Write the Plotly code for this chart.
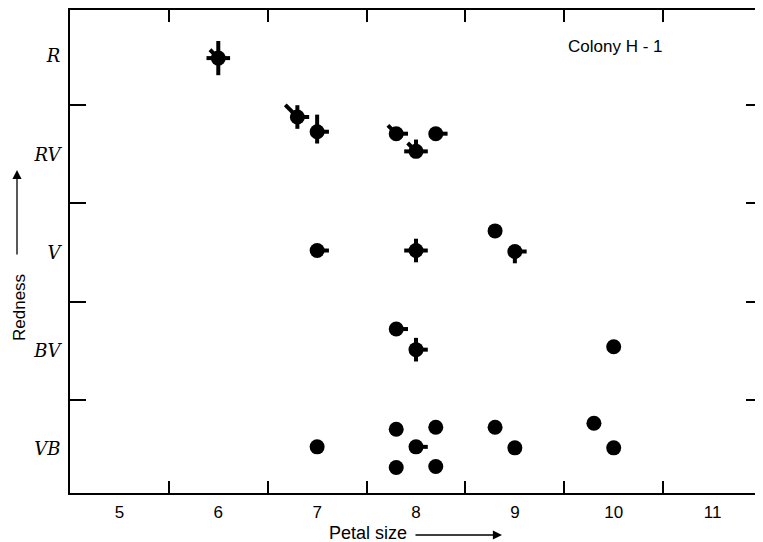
import math
import plotly.graph_objects as go

# ---- data ----
petal_size = [6.0, 6.8, 7.0, 7.8, 8.2, 8.0, 7.0, 8.0, 8.8, 9.0, 7.8, 8.0, 10.0,
              7.0, 7.8, 8.2, 8.0, 7.8, 8.2, 8.8, 9.0, 9.8, 10.0]
redness = [3.98, 3.38, 3.23, 3.21, 3.21, 3.03, 2.02, 2.02, 2.22, 2.01, 1.22, 1.01, 1.04,
           0.02, 0.2, 0.22, 0.02, -0.19, -0.18, 0.22, 0.01, 0.26, 0.01]
# ray scores (0 = none, 1 = short, 2 = long) for five other characters
ray_n = [2, 1, 2, 0, 0, 1, 0, 1, 0, 0, 0, 1, 0, 0, 0, 0, 0, 0, 0, 0, 0, 0, 0]
ray_s = [2, 1, 1, 0, 0, 0, 0, 1, 0, 1, 0, 1, 0, 0, 0, 0, 0, 0, 0, 0, 0, 0, 0]
ray_e = [1, 1, 1, 1, 1, 1, 1, 1, 0, 1, 1, 1, 0, 0, 0, 0, 1, 0, 0, 0, 0, 0, 0]
ray_w = [1, 0, 0, 0, 0, 1, 0, 1, 0, 0, 0, 0, 0, 0, 0, 0, 0, 0, 0, 0, 0, 0, 0]
ray_nw = [1, 2, 0, 1, 0, 1, 0, 0, 0, 0, 0, 0, 0, 0, 0, 0, 0, 0, 0, 0, 0, 0, 0]

x_tick_vals = [5, 6, 7, 8, 9, 10, 11]
y_tick_vals = [0, 1, 2, 3, 4]
y_tick_text = ["VB", "BV", "V", "RV", "R"]

# ---- figure ----
fig = go.Figure()

fig.add_trace(go.Scatter(
    x=petal_size, y=redness, mode="markers",
    marker=dict(size=15, color="black", line=dict(width=0)),
    showlegend=False, hoverinfo="skip"))

# dummy trace for the secondary (tick-only) axes
fig.add_trace(go.Scatter(x=[8], y=[2], xaxis="x2", yaxis="y2", mode="markers",
                         marker=dict(size=1, opacity=0), showlegend=False, hoverinfo="skip"))

BASE = 6.5
STEP = 5.3
shapes = []
s2 = math.sqrt(0.5)
for i in range(len(petal_size)):
    for lev, (ux, uy) in [(ray_n[i], (0, 1)), (ray_s[i], (0, -1)), (ray_e[i], (1, 0)),
                          (ray_w[i], (-1, 0)), (ray_nw[i], (-s2, s2))]:
        if lev <= 0:
            continue
        L = BASE + STEP * lev
        shapes.append(dict(
            type="line", xref="x", yref="y",
            xsizemode="pixel", ysizemode="pixel",
            xanchor=petal_size[i], yanchor=redness[i],
            x0=0, y0=0, x1=ux * L, y1=uy * L,
            line=dict(color="black", width=4), layer="above"))

xr = [4.5, 11.5]
yr = [-0.45, 4.47]

# page has an 8px body margin; figure sized so it ends at the window edge
W, H = 755, 534
L_M, T_M, R_M, B_M = 62, 2, 1, 49
PW = W - L_M - R_M
PH = H - T_M - B_M


def px_x(sx):
    return (sx - 8 - L_M) / PW


def px_y(sy):
    return (H - B_M - (sy - 8)) / PH


fig.update_layout(
    width=W, height=H,
    margin=dict(l=L_M, r=R_M, t=T_M, b=B_M, autoexpand=False),
    paper_bgcolor="white", plot_bgcolor="white",
    shapes=shapes,
    xaxis=dict(range=xr, tickvals=x_tick_vals, ticks="", showgrid=False, zeroline=False,
               showline=True, linecolor="black", linewidth=2, mirror=True,
               tickfont=dict(family="Liberation Sans", size=17, color="black"),
               ticklabelstandoff=3),
    yaxis=dict(range=yr, tickvals=y_tick_vals,
               ticktext=["<i>%s</i>" % t for t in y_tick_text],
               ticks="", showgrid=False, zeroline=False,
               showline=True, linecolor="black", linewidth=2, mirror=True,
               tickfont=dict(family="DejaVu Serif", size=18, color="black"),
               ticklabelstandoff=4),
    xaxis2=dict(range=xr, overlaying="x", tickvals=[5.5, 6.5, 7.5, 8.5, 9.5, 10.5],
                ticks="inside", ticklen=12, tickwidth=1.6, tickcolor="black",
                mirror="allticks", showline=False, showticklabels=False,
                showgrid=False, zeroline=False),
    yaxis2=dict(range=yr, overlaying="y", tickvals=[0.5, 1.5, 2.5, 3.5],
                ticks="inside", ticklen=16, tickwidth=1.6, tickcolor="black",
                mirror="allticks", showline=False, showticklabels=False,
                showgrid=False, zeroline=False),
)

# axis titles with arrows
fig.add_annotation(text="Petal size", xref="paper", yref="paper",
                   x=px_x(368), y=px_y(533), showarrow=False,
                   xanchor="center", yanchor="middle",
                   font=dict(family="Liberation Sans", size=18, color="black"))
fig.add_annotation(text="", xref="paper", yref="paper",
                   x=px_x(502), y=px_y(535),
                   ax=-88, ay=0, showarrow=True, arrowhead=2, arrowsize=1.4,
                   arrowwidth=1.3, arrowcolor="black")
fig.add_annotation(text="Redness", xref="paper", yref="paper", textangle=-90,
                   x=px_x(19), y=px_y(308), showarrow=False,
                   xanchor="center", yanchor="middle",
                   font=dict(family="Liberation Sans", size=17, color="black"))
fig.add_annotation(text="", xref="paper", yref="paper",
                   x=px_x(17), y=px_y(170),
                   ax=0, ay=86, showarrow=True, arrowhead=2, arrowsize=1.4,
                   arrowwidth=1.3, arrowcolor="black")
fig.add_annotation(text="Colony H - 1", xref="paper", yref="paper",
                   x=px_x(615), y=px_y(46), showarrow=False,
                   xanchor="center", yanchor="middle",
                   font=dict(family="Liberation Sans", size=17, color="black"))

fig.write_html("out.html")
